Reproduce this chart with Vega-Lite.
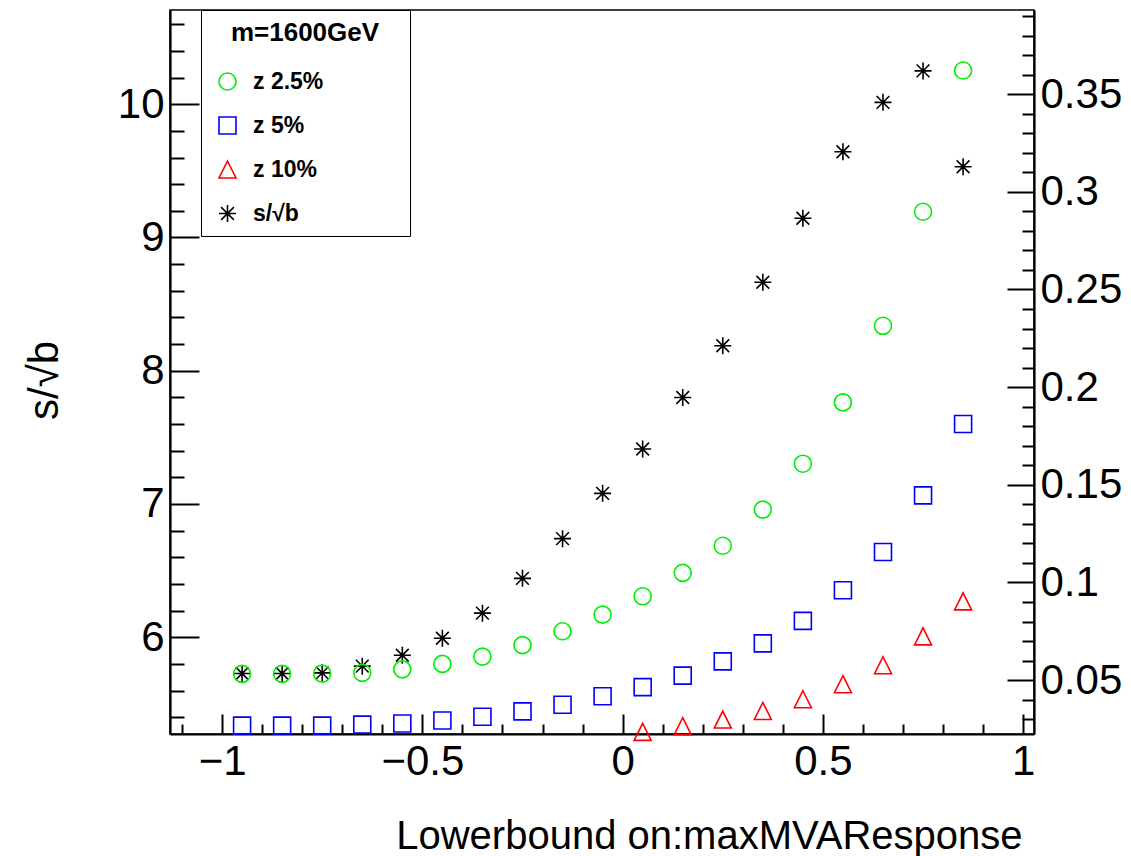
{
  "$schema": "https://vega.github.io/schema/vega-lite/v6.json",
  "width": 864,
  "height": 724,
  "autosize": {"type": "none"},
  "padding": {"left": 170, "top": 10, "right": 97, "bottom": 122},
  "background": "white",
  "config": {
    "view": {"stroke": "black", "strokeWidth": 1.5},
    "font": "Liberation Sans",
    "axis": {
      "labelFont": "Liberation Sans",
      "titleFont": "Liberation Sans",
      "labelColor": "black",
      "titleColor": "black",
      "tickColor": "black",
      "domainColor": "black",
      "labelFontSize": 42,
      "titleFontSize": 40,
      "titleFontWeight": "normal",
      "grid": false,
      "tickWidth": 2,
      "domainWidth": 2.2,
      "labelOverlap": false,
      "labelFlush": false,
      "format": "~g"
    }
  },
  "datasets": {
    "sig": [
      {"x": -0.95, "value": 5.728, "series": "s/√b"},
      {"x": -0.85, "value": 5.728, "series": "s/√b"},
      {"x": -0.75, "value": 5.733, "series": "s/√b"},
      {"x": -0.65, "value": 5.783, "series": "s/√b"},
      {"x": -0.55, "value": 5.865, "series": "s/√b"},
      {"x": -0.45, "value": 5.993, "series": "s/√b"},
      {"x": -0.35, "value": 6.181, "series": "s/√b"},
      {"x": -0.25, "value": 6.442, "series": "s/√b"},
      {"x": -0.15, "value": 6.74, "series": "s/√b"},
      {"x": -0.05, "value": 7.08, "series": "s/√b"},
      {"x": 0.05, "value": 7.413, "series": "s/√b"},
      {"x": 0.15, "value": 7.799, "series": "s/√b"},
      {"x": 0.25, "value": 8.187, "series": "s/√b"},
      {"x": 0.35, "value": 8.664, "series": "s/√b"},
      {"x": 0.45, "value": 9.144, "series": "s/√b"},
      {"x": 0.55, "value": 9.643, "series": "s/√b"},
      {"x": 0.65, "value": 10.014, "series": "s/√b"},
      {"x": 0.75, "value": 10.25, "series": "s/√b"},
      {"x": 0.85, "value": 9.531, "series": "s/√b"}
    ],
    "z": [
      {"x": -0.95, "value": 0.0532, "series": "z 2.5%"},
      {"x": -0.85, "value": 0.0532, "series": "z 2.5%"},
      {"x": -0.75, "value": 0.0533, "series": "z 2.5%"},
      {"x": -0.65, "value": 0.0537, "series": "z 2.5%"},
      {"x": -0.55, "value": 0.0555, "series": "z 2.5%"},
      {"x": -0.45, "value": 0.0583, "series": "z 2.5%"},
      {"x": -0.35, "value": 0.062, "series": "z 2.5%"},
      {"x": -0.25, "value": 0.0679, "series": "z 2.5%"},
      {"x": -0.15, "value": 0.075, "series": "z 2.5%"},
      {"x": -0.05, "value": 0.0835, "series": "z 2.5%"},
      {"x": 0.05, "value": 0.0929, "series": "z 2.5%"},
      {"x": 0.15, "value": 0.1049, "series": "z 2.5%"},
      {"x": 0.25, "value": 0.1188, "series": "z 2.5%"},
      {"x": 0.35, "value": 0.1373, "series": "z 2.5%"},
      {"x": 0.45, "value": 0.1608, "series": "z 2.5%"},
      {"x": 0.55, "value": 0.1922, "series": "z 2.5%"},
      {"x": 0.65, "value": 0.2314, "series": "z 2.5%"},
      {"x": 0.75, "value": 0.2898, "series": "z 2.5%"},
      {"x": 0.85, "value": 0.3621, "series": "z 2.5%"},
      {"x": -0.95, "value": 0.0267, "series": "z 5%"},
      {"x": -0.85, "value": 0.0267, "series": "z 5%"},
      {"x": -0.75, "value": 0.0267, "series": "z 5%"},
      {"x": -0.65, "value": 0.0272, "series": "z 5%"},
      {"x": -0.55, "value": 0.0278, "series": "z 5%"},
      {"x": -0.45, "value": 0.0293, "series": "z 5%"},
      {"x": -0.35, "value": 0.0312, "series": "z 5%"},
      {"x": -0.25, "value": 0.034, "series": "z 5%"},
      {"x": -0.15, "value": 0.0374, "series": "z 5%"},
      {"x": -0.05, "value": 0.0417, "series": "z 5%"},
      {"x": 0.05, "value": 0.0464, "series": "z 5%"},
      {"x": 0.15, "value": 0.0523, "series": "z 5%"},
      {"x": 0.25, "value": 0.0596, "series": "z 5%"},
      {"x": 0.35, "value": 0.0688, "series": "z 5%"},
      {"x": 0.45, "value": 0.0803, "series": "z 5%"},
      {"x": 0.55, "value": 0.096, "series": "z 5%"},
      {"x": 0.65, "value": 0.1156, "series": "z 5%"},
      {"x": 0.75, "value": 0.1446, "series": "z 5%"},
      {"x": 0.85, "value": 0.1811, "series": "z 5%"},
      {"x": 0.05, "value": 0.0235, "series": "z 10%"},
      {"x": 0.15, "value": 0.0264, "series": "z 10%"},
      {"x": 0.25, "value": 0.0298, "series": "z 10%"},
      {"x": 0.35, "value": 0.0342, "series": "z 10%"},
      {"x": 0.45, "value": 0.0402, "series": "z 10%"},
      {"x": 0.55, "value": 0.0479, "series": "z 10%"},
      {"x": 0.65, "value": 0.0576, "series": "z 10%"},
      {"x": 0.75, "value": 0.0724, "series": "z 10%"},
      {"x": 0.85, "value": 0.0903, "series": "z 10%"}
    ]
  },
  "layer": [
    {
      "data": {"name": "sig"},
      "mark": {"type": "point", "filled": false, "strokeWidth": 1.6, "size": 289, "opacity": 1},
      "encoding": {
        "x": {
          "field": "x", "type": "quantitative",
          "scale": {"domain": [-1.13, 1.027], "nice": false, "zero": false},
          "axis": {
            "orient": "bottom",
            "values": [-1.1, -1, -0.9, -0.8, -0.7, -0.6, -0.5, -0.4, -0.3, -0.2, -0.1, 0, 0.1, 0.2, 0.3, 0.4, 0.5, 0.6, 0.7, 0.8, 0.9, 1],
            "labelExpr": "abs(datum.value*2-round(datum.value*2))<1e-6 ? datum.label : ''",
            "tickSize": {"condition": {"test": "abs(datum.value*2-round(datum.value*2))<1e-6", "value": -20}, "value": -10},
            "labelBaseline": "alphabetic",
            "labelPadding": 60,
            "title": "Lowerbound on:maxMVAResponse",
            "titleAnchor": "end",
            "titleAlign": "right",
            "titleBaseline": "alphabetic",
            "titleX": 852,
            "titleY": 114
          }
        },
        "y": {
          "field": "value", "type": "quantitative",
          "scale": {"domain": [5.274, 10.707], "nice": false, "zero": false},
          "axis": {
            "orient": "left",
            "values": [5.4, 5.6, 5.8, 6, 6.2, 6.4, 6.6, 6.8, 7, 7.2, 7.4, 7.6, 7.8, 8, 8.2, 8.4, 8.6, 8.8, 9, 9.2, 9.4, 9.6, 9.8, 10, 10.2, 10.4, 10.6],
            "labelExpr": "abs(datum.value-round(datum.value))<1e-6 ? datum.label : ''",
            "tickSize": {"condition": {"test": "abs(datum.value-round(datum.value))<1e-6", "value": -29}, "value": -14},
            "labelPadding": 35,
            "title": "s/√b",
            "titleFontSize": 42,
            "titleAngle": -90,
            "titleAlign": "center",
            "titleBaseline": "alphabetic",
            "titleX": -113,
            "titleY": 370
          }
        },
        "color": {
          "field": "series", "type": "nominal",
          "scale": {"domain": ["z 2.5%", "z 5%", "z 10%", "s/√b"], "range": ["#00ee00", "#0000ff", "#ff0000", "#000000"]},
          "legend": {
            "orient": "none",
            "legendX": 31,
            "legendY": 0,
            "title": "m=1600GeV",
            "titleFont": "Liberation Sans",
            "titleFontSize": 26,
            "titleFontWeight": "bold",
            "titleColor": "black",
            "titleAnchor": "middle",
            "titleAlign": "center",
            "titlePadding": 24,
            "labelFont": "Liberation Sans",
            "labelFontSize": 23,
            "labelFontWeight": "bold",
            "labelColor": "black",
            "labelExpr": "datum.label + '\u00a0\u00a0\u00a0\u00a0\u00a0\u00a0\u00a0\u00a0\u00a0\u00a0\u00a0\u00a0\u200b'",
            "fillColor": "white",
            "strokeColor": "black",
            "padding": 10,
            "symbolOffset": 5,
            "labelOffset": 14,
            "rowPadding": 19,
            "symbolSize": 289,
            "symbolStrokeWidth": 1.6
          }
        },
        "shape": {
          "field": "series", "type": "nominal",
          "scale": {"domain": ["z 2.5%", "z 5%", "z 10%", "s/√b"], "range": ["circle", "square", "M0,-1L1,1L-1,1Z", "M-1,0L1,0M0,-1L0,1M-0.75,-0.75L0.75,0.75M-0.75,0.75L0.75,-0.75"]}
        }
      }
    },
    {
      "data": {"name": "z"},
      "mark": {"type": "point", "filled": false, "strokeWidth": 1.6, "size": 289, "opacity": 1},
      "encoding": {
        "x": {"field": "x", "type": "quantitative"},
        "y": {
          "field": "value", "type": "quantitative",
          "scale": {"domain": [0.0224, 0.3931], "nice": false, "zero": false},
          "axis": {
            "orient": "right",
            "values": [0.03, 0.04, 0.05, 0.06, 0.07, 0.08, 0.09, 0.1, 0.11, 0.12, 0.13, 0.14, 0.15, 0.16, 0.17, 0.18, 0.19, 0.2, 0.21, 0.22, 0.23, 0.24, 0.25, 0.26, 0.27, 0.28, 0.29, 0.3, 0.31, 0.32, 0.33, 0.34, 0.35, 0.36, 0.37, 0.38, 0.39],
            "labelExpr": "abs(datum.value*20-round(datum.value*20))<1e-6 ? datum.label : ''",
            "tickSize": {"condition": {"test": "abs(datum.value*20-round(datum.value*20))<1e-6", "value": -27}, "value": -12},
            "labelPadding": 33,
            "title": null
          }
        },
        "color": {"field": "series", "type": "nominal"},
        "shape": {"field": "series", "type": "nominal"}
      }
    }
  ],
  "resolve": {"scale": {"y": "independent"}}
}
